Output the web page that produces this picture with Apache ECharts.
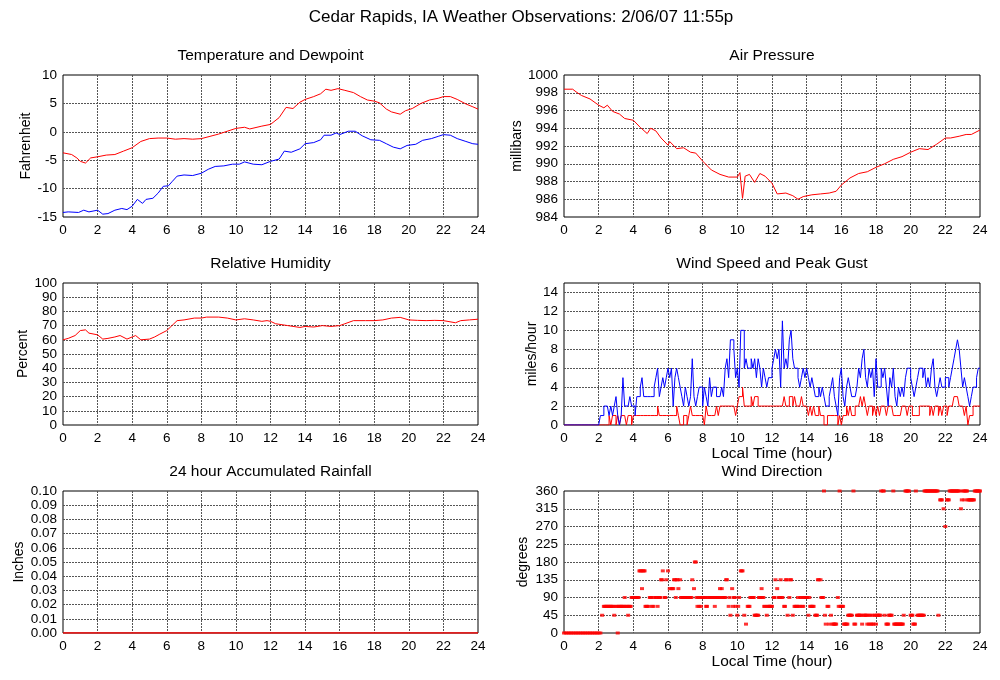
<!DOCTYPE html>
<html>
<head>
<meta charset="utf-8">
<script src="https://cdn.jsdelivr.net/npm/echarts@6/dist/echarts.min.js"></script>
<style>
  html, body { margin: 0; padding: 0; background: #fff; }
  #main { width: 1000px; height: 680px; }
</style>
</head>
<body>
<div id="main"></div>
<script>
// temperature / dewpoint (F)
var tempHours = [0,0.5,0.8,1.0,1.3,1.6,2.0,2.5,3.0,3.5, 4.0,4.5,5.0,5.5,6.0,6.5,7.0,7.5,8.0,8.5,
  9.0,9.5,10.0,10.5,10.8,11.5,12.0,12.5,12.9,13.3, 13.7,14.0,14.5,14.9,15.2,15.5,15.9,16.3,16.8,17.2,
  17.6,18.0,18.3,18.7,19.0,19.5,19.8,20.2,20.7,21.2, 21.7,22.0,22.4,22.8,23.3,23.7,24.0];
var tempF = [-3.7,-4.0,-4.6,-5.2,-5.5,-4.6,-4.4,-4.1,-4.0,-3.4, -2.8,-1.7,-1.2,-1.1,-1.1,-1.3,-1.2,-1.3,-1.2,-0.8,
  -0.4,0.1,0.6,0.8,0.5,1.0,1.3,2.5,4.3,4.1, 5.2,5.7,6.2,6.7,7.5,7.3,7.6,7.3,6.9,6.2,
  5.6,5.4,5.1,4.0,3.5,3.1,3.7,4.1,5.0,5.6, 5.9,6.2,6.2,5.7,4.9,4.4,4.0];

var dewHours = [0,0.3,0.9,1.2,1.5,2.0,2.3,2.6,3.0,3.4, 3.7,4.0,4.3,4.6,4.8,5.2,5.5,5.8,6.1,6.3,
  6.6,7.0,7.5,8.0,8.4,8.8,9.3,9.8,10.2,10.5, 11.0,11.5,12.0,12.5,12.8,13.2,13.7,14.0,14.5,14.9,
  15.1,15.5,15.8,16.0,16.5,16.9,17.3,17.8,18.3,18.7, 19.1,19.5,19.9,20.4,20.8,21.3,21.7,22.0,22.4,22.8,
  23.3,23.7,24.0];
var dewF = [-14.2,-14.1,-14.2,-13.8,-14.1,-13.8,-14.5,-14.4,-13.8,-13.5, -13.7,-13.1,-11.9,-12.6,-11.9,-11.7,-10.8,-9.6,-9.5,-8.8,
  -7.8,-7.6,-7.7,-7.3,-6.6,-6.1,-6.0,-5.7,-5.7,-5.3, -5.7,-5.8,-5.2,-4.8,-3.4,-3.6,-3.0,-2.1,-1.9,-1.4,
  -0.6,-0.6,-0.2,-0.5,0.1,0.1,-0.7,-1.4,-1.5,-2.1, -2.7,-3.0,-2.4,-2.2,-1.5,-1.2,-0.8,-0.5,-0.6,-1.2,
  -1.7,-2.1,-2.2];

// air pressure (mb)
var presHours = [0,0.5,0.7,1.0,1.5,2.0,2.3,2.5,2.8,3.2, 3.5,4.0,4.4,4.8,5.0,5.3,5.6,6.0,6.1,6.5,
  6.9,7.3,7.6,8.0,8.5,9.0,9.5,10.0,10.15,10.3, 10.45,10.7,11.0,11.3,11.6,12.0,12.3,12.8,13.2,13.5,
  13.8,14.3,14.8,15.3,15.7,16.0,16.5,17.0,17.5,18.0, 18.5,19.0,19.5,20.0,20.5,21.0,21.5,22.0,22.3,22.8,
  23.2,23.5,24.0];
var presMb = [998.4,998.4,998.1,997.7,997.3,996.6,996.3,996.6,995.9,995.6, 995.1,994.9,994.1,993.4,994.0,993.7,992.9,992.1,992.5,991.7,
  991.8,991.3,991.2,990.3,989.3,988.8,988.5,988.5,989.0,986.1, 988.6,988.8,987.9,988.9,988.6,987.8,986.6,986.7,986.4,986.0,
  986.3,986.5,986.6,986.7,986.9,987.6,988.4,988.9,989.1,989.6, 990.0,990.5,990.8,991.3,991.7,991.6,992.2,992.9,992.9,993.1,
  993.3,993.3,993.8];

// relative humidity (%)
var rhHours = [0,0.3,0.7,1.0,1.3,1.5,2.0,2.3,2.6,3.0, 3.3,3.7,4.0,4.2,4.5,5.0,5.3,5.6,6.0,6.3,
  6.6,7.0,7.6,8.0,8.3,9.0,9.5,10.0,10.5,11.0, 11.5,11.8,12.0,12.3,13.0,13.7,14.0,14.5,15.0,15.5,
  16.0,16.3,16.8,17.5,18.0,18.5,19.0,19.5,20.0,20.5, 21.0,21.5,22.0,22.7,23.0,23.5,24.0];
var rhPct = [60,61,63,66.5,67,64.7,63.5,60.5,61,62, 63,60.5,62,63,60,60.5,62,64,66.5,70,
  73.5,74,75.3,75.3,76,76,75.3,74,74.8,74, 73,73.5,73,71.3,70,68.7,69.4,69,70,69.4,
  70,71.3,73.5,73.5,73.5,74,75.3,75.8,74,73.7, 73.5,73.7,73.5,72,73.5,74,74.5];

// wind, one sample every 0.1 h (rows = hours 0..23, then 24.0)
var windGust = [
  0,0,0,0,0,0,0,0,0,0,
  0,0,0,0,0,0,0,0,0,0,
  0,1,1,2,2,2,1,2,1,2,
  3,1,0,1,5,2,2,2,3,2,
  2,1,3,3,4,5,3,3,3,3,
  3,3,4,5,6,3,4,5,4,5,
  6,5,6,2,5,6,5,4,3,2,
  4,3,2,3,7,3,2,3,4,4,
  2,4,3,2,5,3,4,4,3,3,
  3,4,3,6,7,5,9,9,8,5,
  6,4,10,10,6,7,6,6,7,6,
  7,5,7,6,4,6,5,4,5,5,
  6,7,8,7,8,4,11,6,7,6,
  9,10,7,6,6,5,4,5,6,5,
  6,5,4,5,4,3,3,4,3,4,
  3,2,2,3,4,5,3,2,1,5,
  6,3,2,4,5,4,3,3,3,4,
  6,5,7,8,5,4,6,5,6,3,
  7,4,4,6,5,6,4,2,5,4,
  6,3,2,4,3,4,3,5,6,6,
  5,4,3,4,5,6,6,5,6,4,
  5,4,6,7,4,3,4,5,4,4,
  5,5,4,5,6,7,8,9,8,6,
  4,5,4,3,2,3,4,4,5,6,
  6];
var windSpeed = [
  0,0,0,0,0,0,0,0,0,0,
  0,0,0,0,0,0,0,0,0,0,
  0,0,0,0,0,0,1,0,1,1,
  0,1,0,1,1,1,0,1,1,0,
  1,1,1,1,1,1,1,1,1,1,
  1,1,1,1,2,1,1,1,1,1,
  1,1,1,1,1,2,1,0,0,1,
  1,0,1,2,1,1,1,1,1,1,
  1,0,2,1,1,1,1,1,2,1,
  2,2,2,2,2,2,2,2,2,1,
  2,3,3,4,2,2,2,2,3,2,
  3,3,2,2,2,2,2,2,2,2,
  2,2,2,2,2,2,2,3,2,2,
  3,3,2,3,2,2,2,3,2,2,
  2,1,2,1,2,1,1,2,1,1,
  0,0,1,1,1,1,1,1,0,1,
  0,1,1,2,1,2,1,1,2,2,
  2,3,2,3,2,1,2,2,1,2,
  1,2,1,2,2,2,1,2,2,2,
  1,1,1,1,1,2,2,2,1,2,
  2,1,1,1,1,2,2,2,2,2,
  2,1,2,1,2,2,1,2,1,2,
  2,1,2,2,2,3,3,3,2,2,
  2,1,2,0,1,1,2,2,2,2,
  2];
var windDir = [
  0,0,0,0,0,0,0,0,0,0,
  0,0,0,0,0,0,0,0,0,0,
  0,0,45,67.5,67.5,67.5,67.5,67.5,67.5,45,
  67.5,0,67.5,67.5,67.5,90,67.5,45,67.5,90,
  90,90,90,90,157.5,112.5,157.5,67.5,67.5,67.5,
  90,67.5,90,90,67.5,90,135,157.5,90,135,
  157.5,112.5,112.5,112.5,135,135,112.5,135,90,90,
  90,90,90,90,135,112.5,180,67.5,67.5,67.5,
  90,90,67.5,90,90,90,90,67.5,90,90,
  112.5,112.5,90,90,135,67.5,45,112.5,90,67.5,
  45,90,157.5,157.5,45,22.5,67.5,67.5,90,90,
  45,45,45,90,112.5,90,67.5,45,67.5,67.5,
  67.5,90,135,112.5,90,135,90,67.5,135,45,
  90,135,45,67.5,67.5,90,67.5,90,67.5,90,
  90,45,67.5,67.5,67.5,45,45,135,135,90,
  360,22.5,67.5,22.5,45,22.5,22.5,22.5,90,360,
  67.5,67.5,22.5,22.5,45,45,45,360,22.5,45,
  45,45,22.5,45,45,22.5,22.5,22.5,22.5,45,
  22.5,45,45,360,360,45,22.5,22.5,45,45,
  360,22.5,22.5,22.5,22.5,22.5,45,360,360,360,
  45,45,22.5,360,45,45,45,45,360,360,
  360,360,360,360,360,360,45,337.5,337.5,315,
  270,337.5,337.5,360,360,360,360,360,360,315,
  360,337.5,360,337.5,337.5,337.5,337.5,360,360,360,
  360];
// in-between direction reports [hour, degrees]
var windDirExtra = [[2.35,67.5],[2.45,67.5],[2.55,67.5],[2.65,67.5],[2.75,67.5],[2.85,67.5],[3.05,67.5],[3.15,67.5],
  [3.25,67.5],[3.35,67.5],[3.45,67.5],[3.55,67.5],[3.65,67.5],[3.75,67.5],[3.85,67.5],[3.95,90],[4.05,90],[4.15,90],
  [4.25,90],[4.35,157.5],[4.45,157.5],[4.55,157.5],[4.65,157.5],[4.75,67.5],[4.95,90],[5.05,90],[5.15,67.5],[5.35,90],
  [5.45,90],[5.55,90],[5.65,135],[5.85,90],[6.25,112.5],[6.35,135],[6.45,90],[6.55,135],[6.75,90],[6.85,90],[6.95,90],
  [7.05,90],[7.15,90],[7.25,90],[7.35,90],[7.55,180],[7.65,90],[7.75,90],[7.85,90],[7.95,90],[8.05,90],[8.15,90],
  [8.25,67.5],[8.35,90],[8.45,90],[8.55,90],[8.65,90],[8.75,90],[8.85,90],[8.95,90],[9.05,90],[9.15,90],[9.25,90],
  [9.35,135],[9.55,90],[9.75,67.5],[9.85,90],[10.05,67.5],[10.25,157.5],[10.65,67.5],[10.75,90],[10.85,90],[10.95,90],
  [11.05,45],[11.15,45],[11.25,90],[11.35,90],[11.45,90],[11.55,67.5],[11.75,67.5],[11.85,67.5],[11.95,67.5],[12.15,90],
  [12.45,90],[12.55,90],[12.75,67.5],[12.85,135],[13.05,135],[13.35,67.5],[13.45,67.5],[13.55,67.5],[13.65,90],[13.75,67.5],
  [13.85,90],[13.95,90],[14.05,90],[14.15,90],[14.25,67.5],[14.35,67.5],[14.55,45],[14.65,135],[14.85,90],[14.95,90],
  [15.05,45],[15.25,67.5],[15.55,22.5],[15.65,22.5],[15.85,67.5],[15.95,67.5],[16.05,67.5],[16.15,22.5],[16.25,22.5],
  [16.35,22.5],[16.45,45],[16.55,45],[16.75,22.5],[16.95,45],[17.05,45],[17.15,45],[17.35,45],[17.45,45],[17.55,45],
  [17.65,45],[17.75,45],[17.85,22.5],[17.95,45],[18.05,45],[18.15,45],[18.25,45],[18.45,360],[18.65,22.5],[18.75,45],
  [18.85,45],[19.05,22.5],[19.15,22.5],[19.25,22.5],[19.35,22.5],[19.45,22.5],[19.55,22.5],[19.75,360],[19.85,360],
  [20.05,45],[20.15,22.5],[20.25,22.5],[20.45,45],[20.55,45],[20.65,45],[20.75,45],[20.85,360],[20.95,360],[21.05,360],
  [21.15,360],[21.25,360],[21.35,360],[21.45,360],[21.55,360],[21.75,337.5],[22.15,337.5],[22.25,360],[22.35,360],
  [22.45,360],[22.55,360],[22.65,360],[22.75,360],[22.95,337.5],[23.05,360],[23.15,360],[23.25,360],[23.35,337.5],
  [23.45,337.5],[23.55,337.5],[23.65,337.5],[23.75,360],[23.85,360],[23.95,360]];

// rainfall (inches)
var rainHours = [0, 24];
var rainIn = [0, 0];

var FONT = 'Liberation Sans';

function pairs(xs, ys) {
  var out = [];
  for (var i = 0; i < Math.min(xs.length, ys.length); i++) out.push([xs[i], ys[i]]);
  return out;
}
function every10th(vals) {
  return vals.map(function (v, i) { return [i / 10, v]; });
}

var chart = echarts.init(document.getElementById('main'), null, { renderer: 'canvas' });

var panels = [
  { left: 63, top: 75, width: 415, title: 'Temperature and Dewpoint' },
  { left: 564, top: 75, width: 416, title: 'Air Pressure' },
  { left: 63, top: 283, width: 415, title: 'Relative Humidity' },
  { left: 564, top: 283, width: 416, title: 'Wind Speed and Peak Gust' },
  { left: 63, top: 491, width: 415, title: '24 hour Accumulated Rainfall' },
  { left: 564, top: 491, width: 416, title: 'Wind Direction' }
];
var yDefs = [
  { min: -15, max: 10, interval: 5, name: 'Fahrenheit', gap: 30 },
  { min: 984, max: 1000, interval: 2, name: 'millibars', gap: 33 },
  { min: 0, max: 100, interval: 10, name: 'Percent', gap: 27 },
  { min: 0, max: 15, interval: 2, name: 'miles/hour', gap: 23, hideMax: true },
  { min: 0, max: 0.1, interval: 0.01, name: 'Inches', gap: 37, digits: 2 },
  { min: 0, max: 360, interval: 45, name: 'degrees', gap: 34 }
];

var gridLine = { show: true, showMinLine: false, showMaxLine: false,
  lineStyle: { color: '#555', width: 1, type: [2, 1] } };

var titles = [{
  text: 'Cedar Rapids, IA Weather Observations: 2/06/07 11:55p',
  left: 521, top: 9, textAlign: 'center', padding: 0,
  textStyle: { fontFamily: FONT, fontSize: 17, fontWeight: 'normal', color: '#000' }
}];
panels.forEach(function (p) {
  titles.push({
    text: p.title, left: p.left + p.width / 2, top: p.top - 27, textAlign: 'center', padding: 0,
    textStyle: { fontFamily: FONT, fontSize: 15.5, fontWeight: 'normal', color: '#000' }
  });
});

var option = {
  animation: false,
  backgroundColor: '#fff',
  title: titles,
  grid: panels.map(function (p) {
    return { left: p.left, top: p.top, width: p.width, height: 142, show: true,
      borderColor: '#000', borderWidth: 1, backgroundColor: 'transparent' };
  }),
  xAxis: panels.map(function (p, i) {
    var ax = {
      type: 'value', gridIndex: i, min: 0, max: 24, interval: 2,
      axisLine: { show: false }, axisTick: { show: false },
      axisLabel: { color: '#000', fontFamily: FONT, fontSize: 13.5, margin: 6 },
      splitLine: gridLine
    };
    if (i === 3 || i === 5) {
      ax.name = 'Local Time (hour)';
      ax.nameLocation = 'middle';
      ax.nameGap = 21;
      ax.nameTextStyle = { color: '#000', fontFamily: FONT, fontSize: 15.5 };
    }
    return ax;
  }),
  yAxis: yDefs.map(function (d, i) {
    return {
      type: 'value', gridIndex: i, min: d.min, max: d.max, interval: d.interval,
      name: d.name, nameLocation: 'middle', nameRotate: 90, nameGap: d.gap,
      nameTextStyle: { color: '#000', fontFamily: FONT, fontSize: 14 },
      axisLine: { show: false }, axisTick: { show: false },
      axisLabel: { color: '#000', fontFamily: FONT, fontSize: 13.5, margin: 6,
        showMaxLabel: d.hideMax ? false : null,
        formatter: function (v) { return d.digits ? v.toFixed(d.digits) : String(v); } },
      splitLine: gridLine
    };
  }),
  series: [
    { type: 'line', xAxisIndex: 0, yAxisIndex: 0, data: pairs(tempHours, tempF), showSymbol: false,
      lineStyle: { color: '#ff0000', width: 1 }, itemStyle: { color: '#ff0000' } },
    { type: 'line', xAxisIndex: 0, yAxisIndex: 0, data: pairs(dewHours, dewF), showSymbol: false,
      lineStyle: { color: '#0000ff', width: 1 }, itemStyle: { color: '#0000ff' } },
    { type: 'line', xAxisIndex: 1, yAxisIndex: 1, data: pairs(presHours, presMb), showSymbol: false,
      lineStyle: { color: '#ff0000', width: 1 }, itemStyle: { color: '#ff0000' } },
    { type: 'line', xAxisIndex: 2, yAxisIndex: 2, data: pairs(rhHours, rhPct), showSymbol: false,
      lineStyle: { color: '#ff0000', width: 1 }, itemStyle: { color: '#ff0000' } },
    { type: 'line', xAxisIndex: 3, yAxisIndex: 3, data: every10th(windSpeed), showSymbol: false, step: 'end',
      lineStyle: { color: '#ff0000', width: 1 }, itemStyle: { color: '#ff0000' } },
    { type: 'line', xAxisIndex: 3, yAxisIndex: 3, data: every10th(windGust), showSymbol: false, step: 'end',
      lineStyle: { color: '#0000ff', width: 1 }, itemStyle: { color: '#0000ff' } },
    { type: 'line', xAxisIndex: 4, yAxisIndex: 4, data: pairs(rainHours, rainIn), showSymbol: false,
      lineStyle: { color: '#ff0000', width: 1.5 }, itemStyle: { color: '#ff0000' } },
    { type: 'scatter', xAxisIndex: 5, yAxisIndex: 5, data: every10th(windDir).concat(windDirExtra),
      symbol: 'rect', symbolSize: [4, 3], itemStyle: { color: '#ff0000' } }
  ]
};
chart.setOption(option);
</script>
</body>
</html>
